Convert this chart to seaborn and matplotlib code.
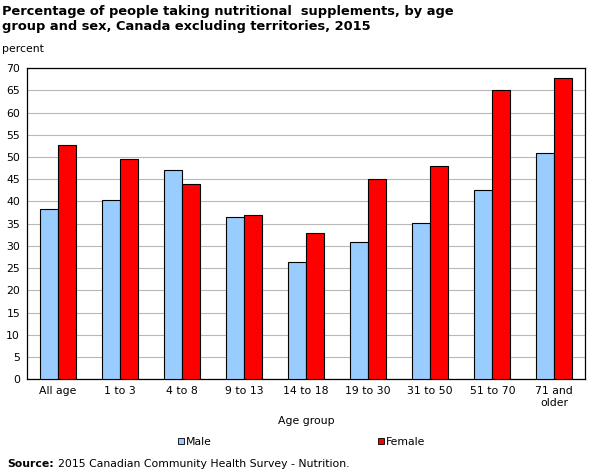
import pandas as pd
import matplotlib.pyplot as plt
import seaborn as sns
from matplotlib.patches import Patch

groups = ["All age", "1 to 3", "4 to 8", "9 to 13", "14 to 18", "19 to 30",
          "31 to 50", "51 to 70", "71 and\nolder"]
male = [38.3, 40.3, 47.0, 36.5, 26.4, 30.8, 35.1, 42.5, 50.9]
female = [52.7, 49.5, 43.9, 36.9, 32.9, 45.1, 47.9, 65.0, 67.7]
y_ticks = list(range(0, 75, 5))

df = pd.DataFrame({
    "group": groups * 2,
    "value": male + female,
    "sex": ["Male"] * len(groups) + ["Female"] * len(groups),
})

sns.set_style("white")
plt.rcParams["font.family"] = ["DejaVu Sans"]
plt.rcParams["text.color"] = "black"
plt.rcParams["axes.labelcolor"] = "black"
plt.rcParams["xtick.color"] = "black"
plt.rcParams["ytick.color"] = "black"

fs = 7.8

fig = plt.figure(figsize=(6.01, 4.73), dpi=100)
ax = fig.add_axes([0.045, 0.198, 0.929, 0.658])

colors = {"Male": "#99CCFF", "Female": "#FF0000"}
sns.barplot(data=df, x="group", y="value", hue="sex", palette=colors,
            saturation=1, width=0.58, edgecolor="black", linewidth=0.8,
            legend=False, ax=ax, zorder=3)

ax.set_ylim(0, 70)
ax.set_xlim(-0.5, len(groups) - 0.5)
ax.set_yticks(y_ticks)
ax.yaxis.grid(True, color="#b8b8b8", linewidth=0.8, zorder=0)
ax.set_axisbelow(True)
ax.tick_params(axis="y", length=0, labelsize=fs, pad=5)
ax.tick_params(axis="x", which="major", length=0, labelsize=fs, pad=5)
ax.set_xticks([i + 0.5 for i in range(len(groups) - 1)], minor=True)
ax.tick_params(axis="x", which="minor", direction="in", length=3, width=0.8)
for s in ax.spines.values():
    s.set_color("black")
    s.set_linewidth(0.9)
ax.set_xlabel("Age group", fontsize=fs, labelpad=6)
ax.set_ylabel("")

fig.text(0.004, 0.99, "Percentage of people taking nutritional  supplements, by age\n"
         "group and sex, Canada excluding territories, 2015",
         fontsize=9.35, fontweight="bold", va="top", ha="left", linespacing=1.2)
fig.text(0.004, 0.897, "percent", fontsize=fs, va="center", ha="left")

handles = [Patch(facecolor=colors["Male"], edgecolor="black", linewidth=0.6, label="Male"),
           Patch(facecolor=colors["Female"], edgecolor="black", linewidth=0.6, label="Female")]
fig.legend(handles=handles, loc="center", bbox_to_anchor=(0.502, 0.066), ncol=2,
           frameon=False, fontsize=fs, handlelength=0.55, handleheight=0.55,
           handletextpad=0.2, columnspacing=15.3)

fig.text(0.012, 0.02, "Source:", fontsize=fs, fontweight="bold", va="center", ha="left")
fig.text(0.0965, 0.02, "2015 Canadian Community Health Survey - Nutrition.",
         fontsize=fs, va="center", ha="left")

fig.savefig("out.png", dpi=100)
